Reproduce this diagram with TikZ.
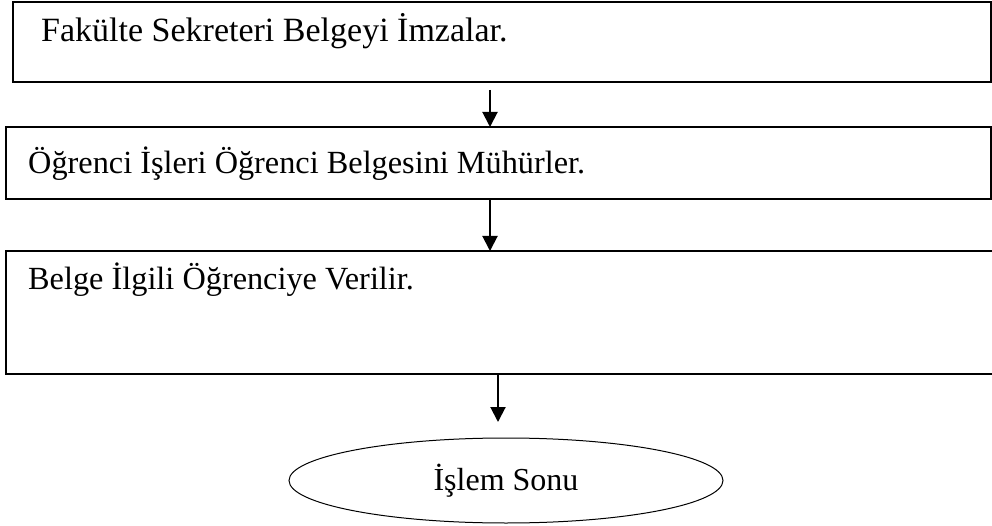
\documentclass[tikz,border=0pt]{standalone}
\usepackage{fontspec}
\setmainfont{Liberation Serif}
\usetikzlibrary{arrows.meta,shapes.geometric}
\begin{document}
\begin{tikzpicture}[x=1pt,y=-1pt,
  stepbox/.style={draw,line width=2pt,rectangle,inner sep=0pt,outer sep=0pt},
  steptext/.style={anchor=base west,inner sep=0pt,font=\fontsize{32.3}{38}\selectfont},
  flow/.style={line width=2pt,-{Triangle[width=15pt,length=15pt]}},
  endnode/.style={draw,ellipse,line width=1pt,minimum width=434pt,minimum height=85pt,
    inner sep=0pt,font=\fontsize{32}{38}\selectfont}]
\useasboundingbox (0,0) rectangle (992,526);
\clip (0,0) rectangle (992,526);

% process steps
\node[stepbox,minimum width=978pt,minimum height=80pt] (b1) at (502,42) {};
\node[stepbox,minimum width=985pt,minimum height=72pt] (b2) at (498.5,163) {};
\node[stepbox,minimum width=1004pt,minimum height=123pt] (b3) at (508,312.5) {};

\node[steptext,font=\fontsize{34}{40}\selectfont] (t1) at (41,42) {Fakülte Sekreteri Belgeyi İmzalar.};
\node[steptext] (t2) at (28,174) {Öğrenci İşleri Öğrenci Belgesini Mühürler.};
\node[steptext] (t3) at (28,290) {Belge İlgili Öğrenciye Verilir.};

% terminal
\node[endnode] (e) at (506,480.5) {İşlem Sonu};

% connectors
\coordinate (a1) at (490,90);
\coordinate (a3) at (498,422);
\draw[flow] (a1) -- (a1 |- b2.north);
\draw[flow] (b2.south -| a1) -- (b3.north -| a1);
\draw[flow] (b3.south -| a3) -- (a3);
\end{tikzpicture}
\end{document}
